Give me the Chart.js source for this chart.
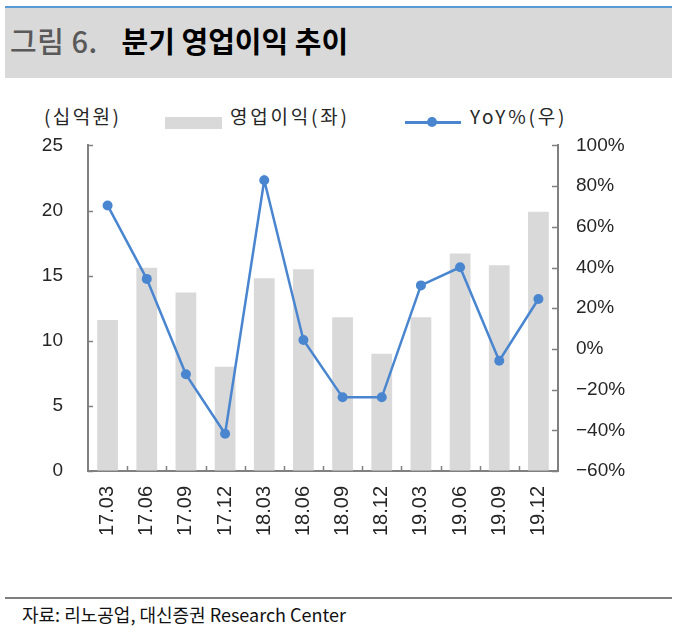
<!DOCTYPE html>
<html>
<head>
<meta charset="utf-8">
<script src="https://cdn.jsdelivr.net/npm/chart.js@4.4.1/dist/chart.umd.min.js"></script>
<style>
  html, body { margin:0; padding:0; background:#fff; }
  body { width:680px; height:632px; position:relative; overflow:hidden; font-family:"Liberation Sans","Noto Sans CJK KR",sans-serif; }
  #band { position:absolute; left:5px; top:6px; width:667px; height:70px; background:#d9d9d9; border-top:2px solid #5b9bd5; }
  #title { position:absolute; left:10px; top:22px; font-family:"Noto Sans CJK KR",sans-serif; font-size:29px; line-height:36px; white-space:nowrap; letter-spacing:0px; }
  #title .num { color:#595959; font-weight:500; margin-right:24px; letter-spacing:0.5px; }
  #title .main { color:#000; font-weight:700; }
  #unit { position:absolute; left:44px; top:104px; font-family:"Noto Sans CJK KR",sans-serif; font-size:19px; color:#262626; line-height:24px; letter-spacing:2.4px; }
  .leg { position:absolute; top:104px; font-family:"Noto Sans CJK KR",sans-serif; font-size:19px; color:#262626; line-height:24px; white-space:nowrap; letter-spacing:2.8px; }
  #legBox { position:absolute; left:165px; top:117px; width:57px; height:12px; background:#d9d9d9; }
  #legLine { position:absolute; left:405px; top:121px; width:56px; height:2.5px; background:#4a86d0; }
  #legDot { position:absolute; left:427px; top:117px; width:10px; height:10px; border-radius:50%; background:#4a86d0; }
  #footLine { position:absolute; left:5px; top:597px; width:667px; height:1.5px; background:#7f7f7f; }
  #foot { position:absolute; left:22px; top:602px; font-family:"Noto Sans CJK KR",sans-serif; font-size:18px; color:#111; line-height:24px; letter-spacing:0px; white-space:nowrap; }
  #c { position:absolute; left:0; top:109px; }
</style>
</head>
<body>
<div id="band"></div>
<div id="title"><span class="num">그림 6.</span><span class="main">분기 영업이익 추이</span></div>
<div id="unit">(십억원)</div>
<div id="legBox"></div>
<div class="leg" style="left:230px;">영업이익(좌)</div>
<div id="legLine"></div>
<div id="legDot"></div>
<div class="leg" style="left:470px;">YoY%(우)</div>
<canvas id="c" width="680" height="481"></canvas>
<div id="footLine"></div>
<div id="foot">자료: 리노공업, 대신증권 Research Center</div>
<script>
const categories = ['17.03','17.06','17.09','17.12','18.03','18.06','18.09','18.12','19.03','19.06','19.09','19.12'];
const operatingProfit = [11.6, 15.6, 13.7, 8.0, 14.8, 15.5, 11.8, 9.0, 11.8, 16.7, 15.8, 19.9];
const yoy = [70.5, 34.4, -12.5, -41.7, 82.9, 4.4, -23.8, -23.8, 31.2, 40.1, -5.8, 24.5];
const leftTickLabels = ['0','5','10','15','20','25'];
const rightTickLabels = ['−60%','−40%','−20%','0%','20%','40%','60%','80%','100%'];

const axisColor = '#808080';
const tickFont = { family: 'Liberation Sans', size: 19 };
const textColor = '#262626';

const innerTicks = {
  id: 'innerTicks',
  afterDatasetsDraw(chart) {
    const ctx = chart.ctx;
    const area = chart.chartArea;
    ctx.save();
    ctx.strokeStyle = axisColor;
    ctx.lineWidth = 1.5;
    const yl = chart.scales.y, yr = chart.scales.y1, x = chart.scales.x;
    yl.ticks.forEach((t, i) => {
      const p = Math.round(yl.getPixelForTick(i)) + 0.5;
      ctx.beginPath(); ctx.moveTo(area.left, p); ctx.lineTo(area.left + 5, p); ctx.stroke();
    });
    yr.ticks.forEach((t, i) => {
      const p = Math.round(yr.getPixelForTick(i)) + 0.5;
      ctx.beginPath(); ctx.moveTo(area.right, p); ctx.lineTo(area.right - 6, p); ctx.stroke();
    });
    for (let i = 1; i < categories.length; i++) {
      const p = Math.round((x.getPixelForTick(i) + x.getPixelForTick(i - 1)) / 2) + 0.5;
      ctx.beginPath(); ctx.moveTo(p, area.bottom); ctx.lineTo(p, area.bottom - 5); ctx.stroke();
    }
    ctx.restore();
  }
};

new Chart(document.getElementById('c'), {
  data: {
    labels: categories,
    datasets: [
      {
        type: 'line', label: 'YoY%(우)', data: yoy, yAxisID: 'y1',
        borderColor: '#4a86d0', backgroundColor: '#4a86d0', borderWidth: 2.5,
        pointRadius: 5, pointHoverRadius: 5, pointBackgroundColor: '#4a86d0', pointBorderWidth: 0,
        tension: 0, order: 0
      },
      {
        type: 'bar', label: '영업이익(좌)', data: operatingProfit, yAxisID: 'y',
        backgroundColor: '#d9d9d9', barPercentage: 0.53, categoryPercentage: 1, order: 1
      }
    ]
  },
  options: {
    responsive: false,
    animation: false,
    layout: { padding: { top: 14, left: 0, right: 0, bottom: 0 } },
    plugins: { legend: { display: false }, tooltip: { enabled: false } },
    scales: {
      x: {
        offset: true,
        grid: { display: true, drawOnChartArea: false, drawTicks: false },
        border: { display: true, color: axisColor, width: 2 },
        ticks: { font: { family: 'Liberation Sans', size: 20 }, color: textColor, minRotation: 90, maxRotation: 90, padding: 15, autoSkip: false },
        afterFit(s) { s.height = 119; }
      },
      y: {
        position: 'left', min: 0, max: 25,
        grid: { display: true, drawOnChartArea: false, drawTicks: false },
        border: { display: true, color: axisColor, width: 2 },
        ticks: { stepSize: 5, font: tickFont, color: textColor, padding: 25,
          callback: (v, i) => leftTickLabels[i] },
        afterFit(s) { s.width = 88; }
      },
      y1: {
        position: 'right', min: -60, max: 100,
        grid: { display: true, drawOnChartArea: false, drawTicks: false },
        border: { display: true, color: axisColor, width: 2 },
        ticks: { stepSize: 20, font: tickFont, color: textColor, padding: 18,
          callback: (v, i) => rightTickLabels[i] },
        afterFit(s) { s.width = 122; }
      }
    }
  },
  plugins: [innerTicks]
});
</script>
</body>
</html>
